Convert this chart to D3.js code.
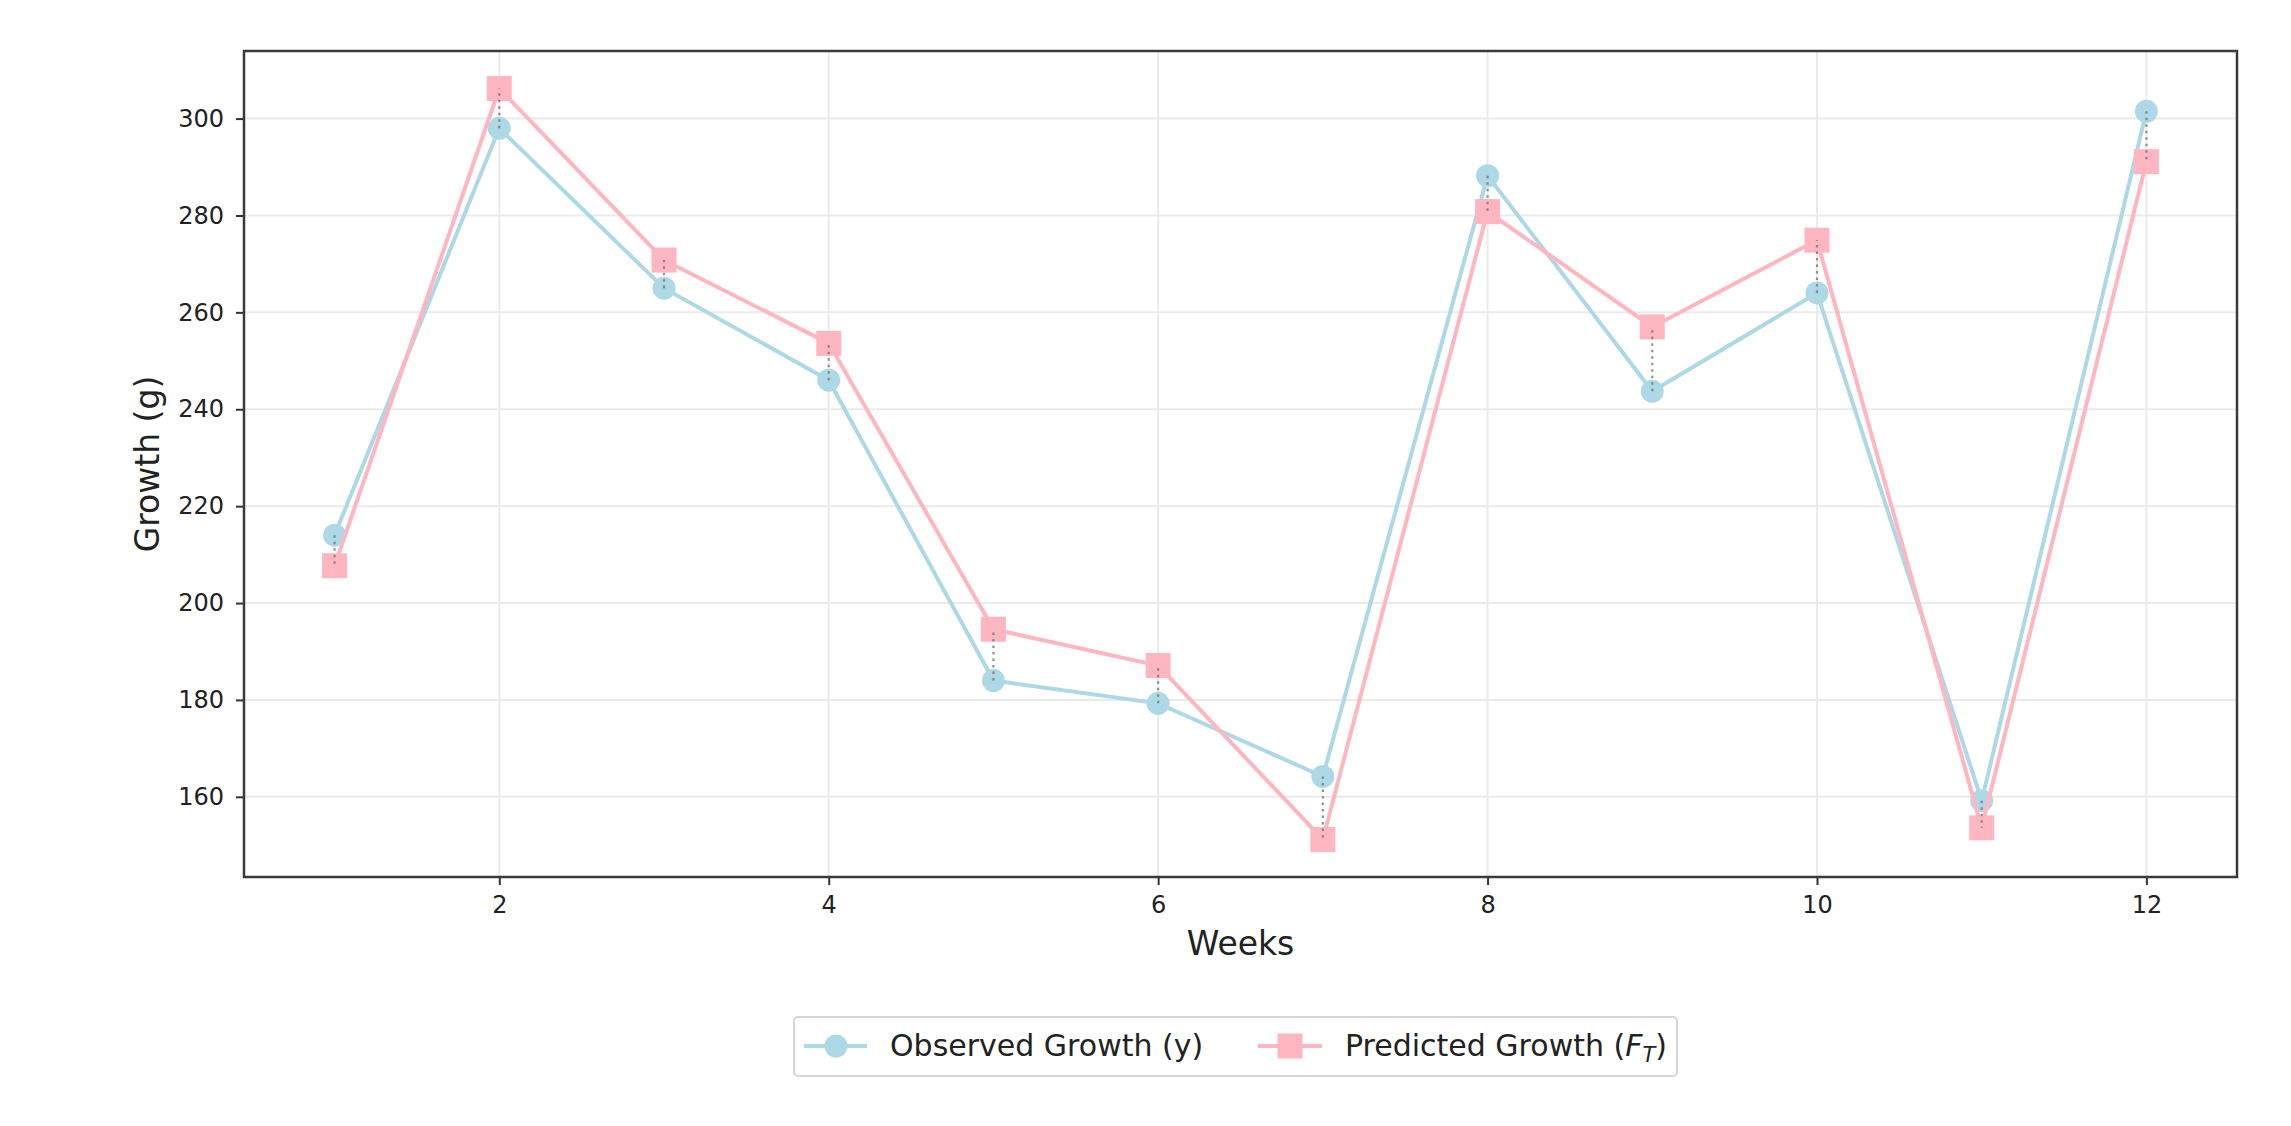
<!DOCTYPE html>
<html>
<head>
<meta charset="utf-8">
<script src="https://cdn.jsdelivr.net/npm/d3@7"></script>
<style>
  body { margin: 0; background: #fff; }
  svg { display: block; }
</style>
</head>
<body>
<svg id="chart"></svg>
<script>
const weeks = [1, 2, 3, 4, 5, 6, 7, 8, 9, 10, 11, 12]
const observed = [214, 298, 265, 246, 184, 179.3, 164.2, 288.2, 243.7, 264, 159.2, 301.5]
const predicted = [207.7, 306.2, 270.8, 253.6, 194.6, 187.1, 151.2, 280.8, 257, 274.9, 153.6, 291.1]
const xTicks = [2, 4, 6, 8, 10, 12]
const yTicks = [160, 180, 200, 220, 240, 260, 280, 300]
const seriesNames = ["Observed Growth (y)", "Predicted Growth"]

const width = 2291, height = 1126
const margin = { left: 244, right: width - 2237, top: 51, bottom: height - 877 }
const color_obs = "#add8e6"
const color_pred = "#ffb6c1"
const font = "'DejaVu Sans', Verdana, sans-serif"
const markerR = 11.5, squareSide = 25

const svg = d3.select("svg#chart")
    .attr("width", width)
    .attr("height", height)
    .style("background-color", "#fff")

// matplotlib style 5% padding around the data
const allValues = observed.concat(predicted)
const [yMin, yMax] = d3.extent(allValues)
const yPad = (yMax - yMin) * 0.05
const xPad = (d3.max(weeks) - d3.min(weeks)) * 0.05

const x = d3.scaleLinear()
    .domain([d3.min(weeks) - xPad, d3.max(weeks) + xPad])
    .range([margin.left, width - margin.right])
const y = d3.scaleLinear()
    .domain([yMin - yPad, yMax + yPad])
    .range([height - margin.bottom, margin.top])

// grid
const grid = svg.append("g").attr("id", "grid")
grid.selectAll("line.gy").data(yTicks).join("line")
    .attr("class", "gy")
    .attr("x1", x.range()[0]).attr("x2", x.range()[1])
    .attr("y1", d => y(d)).attr("y2", d => y(d))
    .style("stroke", "#ebebeb")
    .style("stroke-width", 2)
grid.selectAll("line.gx").data(xTicks).join("line")
    .attr("class", "gx")
    .attr("y1", y.range()[0]).attr("y2", y.range()[1])
    .attr("x1", d => x(d)).attr("x2", d => x(d))
    .style("stroke", "#ebebeb")
    .style("stroke-width", 2)

// axes
const xAxis = svg.append("g")
    .attr("transform", `translate(0,${y.range()[0]})`)
    .call(d3.axisBottom(x).tickValues(xTicks).tickFormat(d3.format("d")).tickSize(8).tickPadding(11))
const yAxis = svg.append("g")
    .attr("transform", `translate(${x.range()[0]},0)`)
    .call(d3.axisLeft(y).tickValues(yTicks).tickFormat(d3.format("d")).tickSize(8).tickPadding(12))
for (const ax of [xAxis, yAxis]) {
    ax.select(".domain").remove()
    ax.selectAll(".tick line").style("stroke", "#333").style("stroke-width", 2)
    ax.selectAll(".tick text")
        .style("font-family", font)
        .style("font-size", "24px")
        .style("fill", "#222")
}

// frame
svg.append("rect")
    .attr("x", x.range()[0]).attr("y", y.range()[1])
    .attr("width", x.range()[1] - x.range()[0])
    .attr("height", y.range()[0] - y.range()[1])
    .style("fill", "none")
    .style("stroke", "#3a3a3a")
    .style("stroke-width", 2.5)

// axis labels
svg.append("text")
    .attr("x", (x.range()[0] + x.range()[1]) / 2)
    .attr("y", 955)
    .attr("text-anchor", "middle")
    .style("font-family", font)
    .style("font-size", "33px")
    .style("fill", "#222")
    .text("Weeks")
svg.append("text")
    .attr("transform", `translate(147,${(y.range()[0] + y.range()[1]) / 2}) rotate(-90)`)
    .attr("dy", "0.35em")
    .attr("text-anchor", "middle")
    .style("font-family", font)
    .style("font-size", "33px")
    .style("fill", "#222")
    .text("Growth (g)")

const line = d3.line().x((d, i) => x(weeks[i])).y(d => y(d))
const plot = svg.append("g").attr("id", "plot")

plot.append("path")
    .attr("d", line(observed))
    .style("fill", "none")
    .style("stroke", color_obs)
    .style("stroke-width", 4)
plot.selectAll("circle.obs").data(observed).join("circle")
    .attr("class", "obs")
    .attr("cx", (d, i) => x(weeks[i]))
    .attr("cy", d => y(d))
    .attr("r", markerR)
    .style("fill", color_obs)

plot.append("path")
    .attr("d", line(predicted))
    .style("fill", "none")
    .style("stroke", color_pred)
    .style("stroke-width", 4)
plot.selectAll("rect.pred").data(predicted).join("rect")
    .attr("class", "pred")
    .attr("x", (d, i) => x(weeks[i]) - squareSide / 2)
    .attr("y", d => y(d) - squareSide / 2)
    .attr("width", squareSide).attr("height", squareSide)
    .style("fill", color_pred)

// dotted residual lines drawn on top of the markers
plot.selectAll("line.res").data(weeks).join("line")
    .attr("class", "res")
    .attr("x1", d => x(d)).attr("x2", d => x(d))
    .attr("y1", (d, i) => y(observed[i]))
    .attr("y2", (d, i) => y(predicted[i]))
    .style("stroke", "#777")
    .style("stroke-width", 2.2)
    .style("stroke-dasharray", "2.5 4")
    .style("opacity", 0.8)

// legend
const legend = svg.append("g").attr("id", "legend")
legend.append("rect")
    .attr("x", 794).attr("y", 1017)
    .attr("width", 883).attr("height", 59)
    .attr("rx", 4)
    .style("fill", "#fff")
    .style("stroke", "#d6d6d6")
    .style("stroke-width", 2)

const legendY = 1046
const obsItem = legend.append("g").attr("transform", "translate(804,0)")
obsItem.append("line")
    .attr("x1", 0).attr("x2", 63).attr("y1", legendY).attr("y2", legendY)
    .style("stroke", color_obs).style("stroke-width", 4)
obsItem.append("circle")
    .attr("cx", 32).attr("cy", legendY).attr("r", markerR)
    .style("fill", color_obs)
obsItem.append("text")
    .attr("x", 86).attr("y", legendY + 10)
    .style("font-family", font)
    .style("font-size", "30px")
    .style("fill", "#222")
    .text(seriesNames[0])

const predItem = legend.append("g").attr("transform", "translate(1258,0)")
predItem.append("line")
    .attr("x1", 0).attr("x2", 64).attr("y1", legendY).attr("y2", legendY)
    .style("stroke", color_pred).style("stroke-width", 4)
predItem.append("rect")
    .attr("x", 32 - squareSide / 2).attr("y", legendY - squareSide / 2)
    .attr("width", squareSide).attr("height", squareSide)
    .style("fill", color_pred)
const predText = predItem.append("text")
    .attr("x", 87).attr("y", legendY + 10)
    .style("font-family", font)
    .style("font-size", "30px")
    .style("fill", "#222")
predText.append("tspan").text(seriesNames[1] + " (")
predText.append("tspan").style("font-style", "italic").text("F")
predText.append("tspan")
    .style("font-style", "italic")
    .style("font-size", "21px")
    .attr("dy", 6)
    .text("T")
predText.append("tspan").attr("dy", -6).text(")")
</script>
</body>
</html>
